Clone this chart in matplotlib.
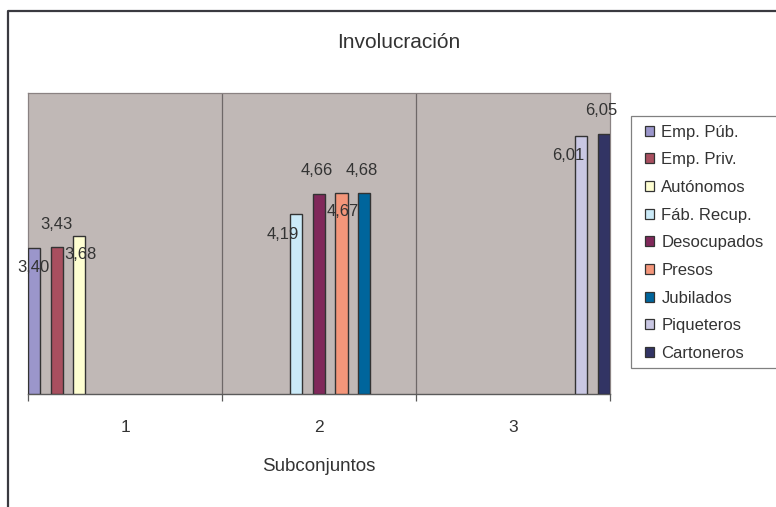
import numpy as np
import matplotlib
matplotlib.use("Agg")
import matplotlib.pyplot as plt
from matplotlib.patches import Patch, Rectangle
from matplotlib.lines import Line2D

plt.rcParams['font.family'] = ['Liberation Sans', 'DejaVu Sans']

# Groups on the x axis
groups = ["1", "2", "3"]

# One series per collective; each one only has a value in its own subset
series = ["Emp. Púb.", "Emp. Priv.", "Autónomos", "Fáb. Recup.", "Desocupados",
          "Presos", "Jubilados", "Piqueteros", "Cartoneros"]
emp_pub     = [3.40, np.nan, np.nan]
emp_priv    = [3.43, np.nan, np.nan]
autonomos   = [3.68, np.nan, np.nan]
fab_recup   = [np.nan, 4.19, np.nan]
desocupados = [np.nan, 4.66, np.nan]
presos      = [np.nan, 4.67, np.nan]
jubilados   = [np.nan, 4.68, np.nan]
piqueteros  = [np.nan, np.nan, 6.01]
cartoneros  = [np.nan, np.nan, 6.05]
values = [emp_pub, emp_priv, autonomos, fab_recup, desocupados,
          presos, jubilados, piqueteros, cartoneros]

colors = ["#9B96CB", "#A84F5F", "#FFFFD2", "#CBEAF8", "#80285A",
          "#F4967A", "#00659C", "#C9C7E3", "#323464"]

# Value-label offsets (pixels) relative to the top of each bar
label_offsets = [(-1, -20), (0, 22), (1, -19), (-13, -21), (-2, 23),
                 (1, -18), (-2, 22), (-13, -20), (-2, 23)]

W, H = 776, 507
fig = plt.figure(figsize=(W / 100, H / 100), dpi=100)
fig.patch.set_facecolor("white")

pl, pr, pt, pb = 28, 610, 93, 394
ax = fig.add_axes([pl / W, 1 - pb / H, (pr - pl) / W, (pb - pt) / H])
ax.set_facecolor("#C0B8B6")
ax.set_xlim(0.5, 3.5)
ax.set_ylim(0, 7)

step = 0.117
width = 0.062
txt = "#333333"

for j, (name, vals, col) in enumerate(zip(series, values, colors)):
    for g, v in enumerate(vals):
        if np.isnan(v):
            continue
        left = (g + 1) - 0.5 + j * step
        ax.bar(left, v, width=width, align="edge", color=col,
               edgecolor="#333333", linewidth=1.0, zorder=3)
        dx, dy = label_offsets[j]
        ax.annotate(f"{v:.2f}".replace(".", ","), xy=(left + width / 2, v),
                    xytext=(dx, dy), textcoords="offset pixels",
                    ha="center", va="center", fontsize=12, color=txt,
                    zorder=4, annotation_clip=False)

# Category separators
for x in [1.5, 2.5]:
    ax.axvline(x, color="#6E6868", lw=0.9, zorder=2)

for s in ["top", "left", "right"]:
    ax.spines[s].set_color("#8A8282")
    ax.spines[s].set_linewidth(0.9)
ax.spines["bottom"].set_color("#5A5A5A")
ax.spines["bottom"].set_linewidth(1.0)

ax.set_yticks([])
ax.set_xticks([0.5, 1.5, 2.5, 3.5])
ax.set_xticklabels([])
ax.set_xticks([1, 2, 3], minor=True)
ax.set_xticklabels(groups, minor=True, fontsize=12.5, color=txt)
ax.tick_params(axis="x", which="major", length=5, color="#5A5A5A", width=0.9)
ax.tick_params(axis="x", which="minor", length=0, pad=19)

ax.set_xlabel("Subconjuntos", fontsize=13.5, color=txt, labelpad=16)

fig.text(399 / W, 1 - 42 / H, "Involucración", ha="center", va="center",
         fontsize=15, color=txt)

# Outer chart frame
fig.add_artist(Line2D([8 / W, 8 / W, 1.0], [0.0, 1 - 11 / H, 1 - 11 / H],
                      transform=fig.transFigure, color="#3A3A40", lw=1.6))

# Legend frame
fig.add_artist(Rectangle((631 / W, 1 - 368 / H), (W + 5 - 631) / W, (368 - 116) / H,
                         transform=fig.transFigure, facecolor="white",
                         edgecolor="#808080", lw=0.9, clip_on=False))
handles = [Patch(facecolor=c, edgecolor="#333333", lw=0.9) for c in colors]
fig.legend(handles, series, loc="upper left",
           bbox_to_anchor=(633 / W, 1 - 113 / H), frameon=False,
           fontsize=12, handlelength=0.55, handleheight=0.55,
           handletextpad=0.45, labelspacing=0.76, borderpad=0.2,
           labelcolor=txt)

fig.savefig("out.png", dpi=100)
